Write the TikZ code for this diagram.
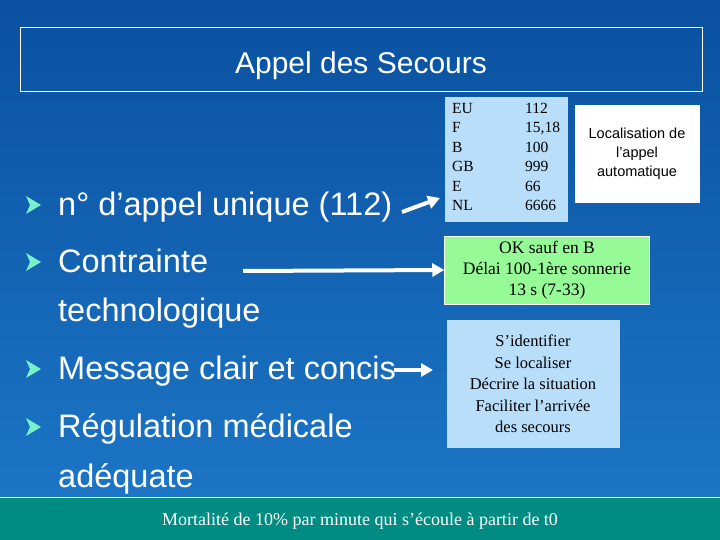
\documentclass[tikz,border=0pt]{standalone}
\usepackage{fontspec}
\setmainfont{Liberation Sans}
\newfontfamily\tms{Liberation Serif}
\usetikzlibrary{arrows.meta}
\definecolor{bgA}{RGB}{10,80,160}
\definecolor{bgB}{RGB}{30,120,200}
\definecolor{lblue}{RGB}{185,222,250}
\definecolor{lgreen}{RGB}{150,250,150}
\definecolor{teal2}{RGB}{0,140,130}
\definecolor{bgreen}{RGB}{120,240,200}
\tikzset{
 bul/.style={white,font=\fontsize{32.5}{32}\selectfont,anchor=base west,inner sep=0},
 tbox/.style={font=\tms\fontsize{17.5}{21}\selectfont,align=center,inner sep=0},
 arr/.style={white,line width=4pt,-{Triangle[length=12pt,width=13pt]}}
}
\newcommand{\bmark}[2]{\fill[bgreen] (#1,#2-19) -- (#1+15,#2-10) -- (#1,#2-1) -- (#1+4,#2-10) -- cycle;}
\begin{document}
\begin{tikzpicture}[x=1pt,y=-1pt]
\useasboundingbox (0,0) rectangle (720,540);
\shade[top color=bgA,bottom color=bgB] (0,0) rectangle (720,540);
\draw[white,line width=0.8pt] (20,27) rectangle (702,91);
\node[white,font=\fontsize{30}{30}\selectfont] (title) at (361,66) {Appel des Secours};
\bmark{26}{215}
\node[bul] (b1) at (58,215) {n° d’appel unique (112)};
\bmark{26}{272}
\node[bul] (b2) at (58,272) {Contrainte};
\node[bul] (b2b) at (58,321) {technologique};
\bmark{26}{379}
\node[bul] (b3) at (58,379) {Message clair et concis};
\bmark{26}{437}
\node[bul] (b4) at (58,437) {Régulation médicale};
\node[bul] (b4b) at (58,487) {adéquate};
\fill[lblue] (445,97) rectangle (568,222);
\node[font=\tms\fontsize{15.5}{19.5}\selectfont,inner sep=0,anchor=north west,align=left] (tab) at (452,103) {EU\\F\\B\\GB\\E\\NL};
\node[font=\tms\fontsize{15.5}{19.5}\selectfont,inner sep=0,anchor=north west,align=left] (tabn) at (525,103) {112\\15,18\\100\\999\\66\\6666};
\node[fill=white,minimum width=125pt,minimum height=98pt,font=\fontsize{14.5}{19}\selectfont,align=center,inner sep=0] (loc) at (637,154) {Localisation de\\l’appel\\automatique};
\node[fill=lgreen,draw=white,line width=0.5pt,minimum width=205pt,minimum height=68pt,tbox] (ok) at (547,270) {OK sauf en B\\Délai 100-1ère sonnerie\\13 s (7-33)};
\node[fill=lblue,minimum width=173pt,minimum height=128pt,tbox,font=\tms\fontsize{16.5}{21.5}\selectfont] (msg) at (533,384) {S’identifier\\Se localiser\\Décrire la situation\\Faciliter l’arrivée\\des secours};
\coordinate (a1s) at (402,212);
\coordinate (a2s) at (243,271);
\coordinate (a3s) at (394,370);
\draw[arr] (a1s) -- (440,198);
\draw[arr] (a2s) -- (ok.west);
\draw[arr] (a3s) -- (433,370);
\fill[teal2] (0,497) rectangle (720,540);
\draw[white,line width=0.8pt] (0,497) -- (720,497);
\node[white,tbox,font=\tms\fontsize{18}{18}\selectfont] (foot) at (360,521) {Mortalité de 10\% par minute qui s’écoule à partir de t0};
\end{tikzpicture}
\end{document}
